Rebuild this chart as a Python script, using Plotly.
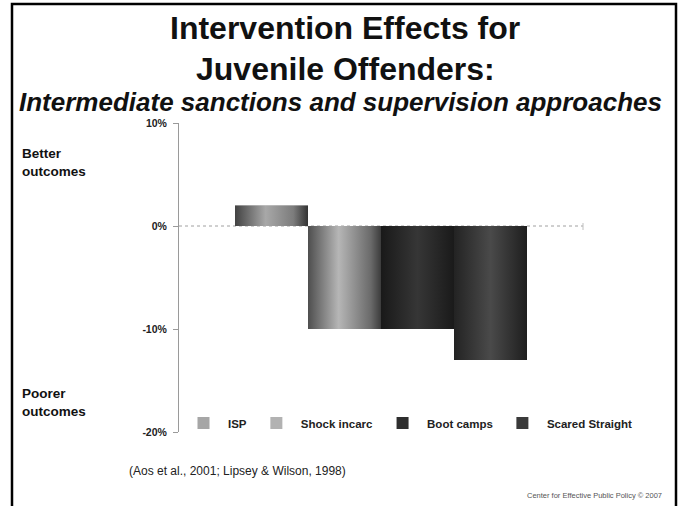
import plotly.graph_objects as go

# Effect on recidivism outcomes, percent (positive = better outcomes)
programs = ["ISP", "Shock incarc", "Boot camps", "Scared Straight"]
effects = [2, -10, -10, -13]

# Legend swatch colours and the shaded (cylinder-like) fill of each bar
swatch_colors = ["#a6a6a6", "#b2b2b2", "#2e2e2e", "#3a3a3a"]
bar_shading = [
    [[0, "#424242"], [0.42, "#a8a8a8"], [0.8, "#7c7c7c"], [1, "#333333"]],
    [[0, "#4e4e4e"], [0.42, "#b6b6b6"], [0.86, "#6a6a6a"], [1, "#3c3c3c"]],
    [[0, "#191919"], [0.5, "#363636"], [1, "#1a1a1a"]],
    [[0, "#232323"], [0.5, "#4a4a4a"], [1, "#1e1e1e"]],
]

tick_values = [10, 0, -10, -20]
tick_labels = ["10%", "0%", "-10%", "-20%"]

W, H = 680, 506
L, R, T, B = 179, 20, 123, 74
PW, PH = W - L - R, H - T - B
BAR_PX = 73          # width of one bar in pixels
FIRST_BAR_PX = 235   # left edge of the first bar
BASELINE_END_PX = 583


def fx(p):
    """pixel column -> paper x"""
    return (p - L) / PW


def fy(p):
    """pixel row -> paper y"""
    return (H - B - p) / PH


SANS = "Liberation Sans, Arial, sans-serif"

fig = go.Figure()

# bars (solid base + legend entry)
for i, (name, val) in enumerate(zip(programs, effects)):
    fig.add_trace(go.Bar(
        x=[i], y=[val], width=1, name=f"<b>{name}</b>",
        marker=dict(color=swatch_colors[i], line=dict(width=0)),
        hoverinfo="skip",
    ))

# horizontal shading laid over each bar
for i, val in enumerate(effects):
    fig.add_trace(go.Scatter(
        x=[i - 0.5, i - 0.5, i + 0.5, i + 0.5, i - 0.5],
        y=[0, val, val, 0, 0],
        fill="toself", mode="lines", line=dict(width=0),
        fillgradient=dict(type="horizontal", colorscale=bar_shading[i]),
        showlegend=False, hoverinfo="skip",
    ))

x_lo = -0.5 - (FIRST_BAR_PX - L) / BAR_PX
x_hi = x_lo + PW / BAR_PX

fig.update_layout(
    width=W, height=H,
    margin=dict(l=L, r=R, t=T, b=B, pad=0),
    paper_bgcolor="white", plot_bgcolor="white",
    barmode="overlay",
    showlegend=True,
    xaxis=dict(range=[x_lo, x_hi], visible=False, fixedrange=True),
    yaxis=dict(
        range=[-20, 10], tickvals=tick_values,
        ticktext=[f"<b>{t}</b>" for t in tick_labels],
        tickfont=dict(family=SANS, size=10.5, color="#222"),
        showline=True, linecolor="#9a9a9a", linewidth=1,
        ticks="outside", ticklen=5, tickcolor="#9a9a9a",
        ticklabelstandoff=4,
        showgrid=False, zeroline=False, fixedrange=True,
    ),
    legend=dict(
        orientation="h", x=fx(179), xanchor="left", y=fy(423), yanchor="middle",
        font=dict(family=SANS, size=11.5, color="#222"),
        bgcolor="rgba(0,0,0,0)", itemwidth=39, traceorder="normal",
    ),
    font=dict(family=SANS, color="#111"),
)

# dotted baseline at 0% and its end mark
fig.add_shape(type="line", xref="paper", yref="y", x0=0, x1=fx(BASELINE_END_PX), y0=0, y1=0,
              line=dict(color="#a0a0a0", width=1, dash="dot"), layer="below")
fig.add_shape(type="line", xref="paper", yref="paper",
              x0=fx(BASELINE_END_PX), x1=fx(BASELINE_END_PX),
              y0=fy(223), y1=fy(230), line=dict(color="#c0c0c0", width=1))

# slide frame
fig.add_shape(type="rect", xref="paper", yref="paper",
              x0=fx(12), x1=fx(676), y0=fy(4), y1=fy(520),
              line=dict(color="black", width=2.5), fillcolor="rgba(0,0,0,0)")


def note(text, x, y, size, xanchor="center", color="#111", **kw):
    fig.add_annotation(text=text, xref="paper", yref="paper", x=fx(x), y=fy(y),
                       xanchor=xanchor, yanchor="middle", showarrow=False,
                       font=dict(family=SANS, size=size, color=color), **kw)


note("<b>Intervention Effects for</b>", 345, 28, 32)
note("<b>Juvenile Offenders:</b>", 345, 69, 32)
note("<b><i>Intermediate sanctions and supervision approaches</i></b>", 340, 102, 26)
note("<b>Better<br>outcomes</b>", 20, 162, 13.5, xanchor="left", align="left")
note("<b>Poorer<br>outcomes</b>", 20, 402, 13.5, xanchor="left", align="left")
note("(Aos et al., 2001; Lipsey &amp; Wilson, 1998)", 127, 471, 12, xanchor="left", color="#222")
note("Center for Effective Public Policy © 2007", 664, 495, 7.5, xanchor="right", color="#555")

fig.write_html("out.html")
